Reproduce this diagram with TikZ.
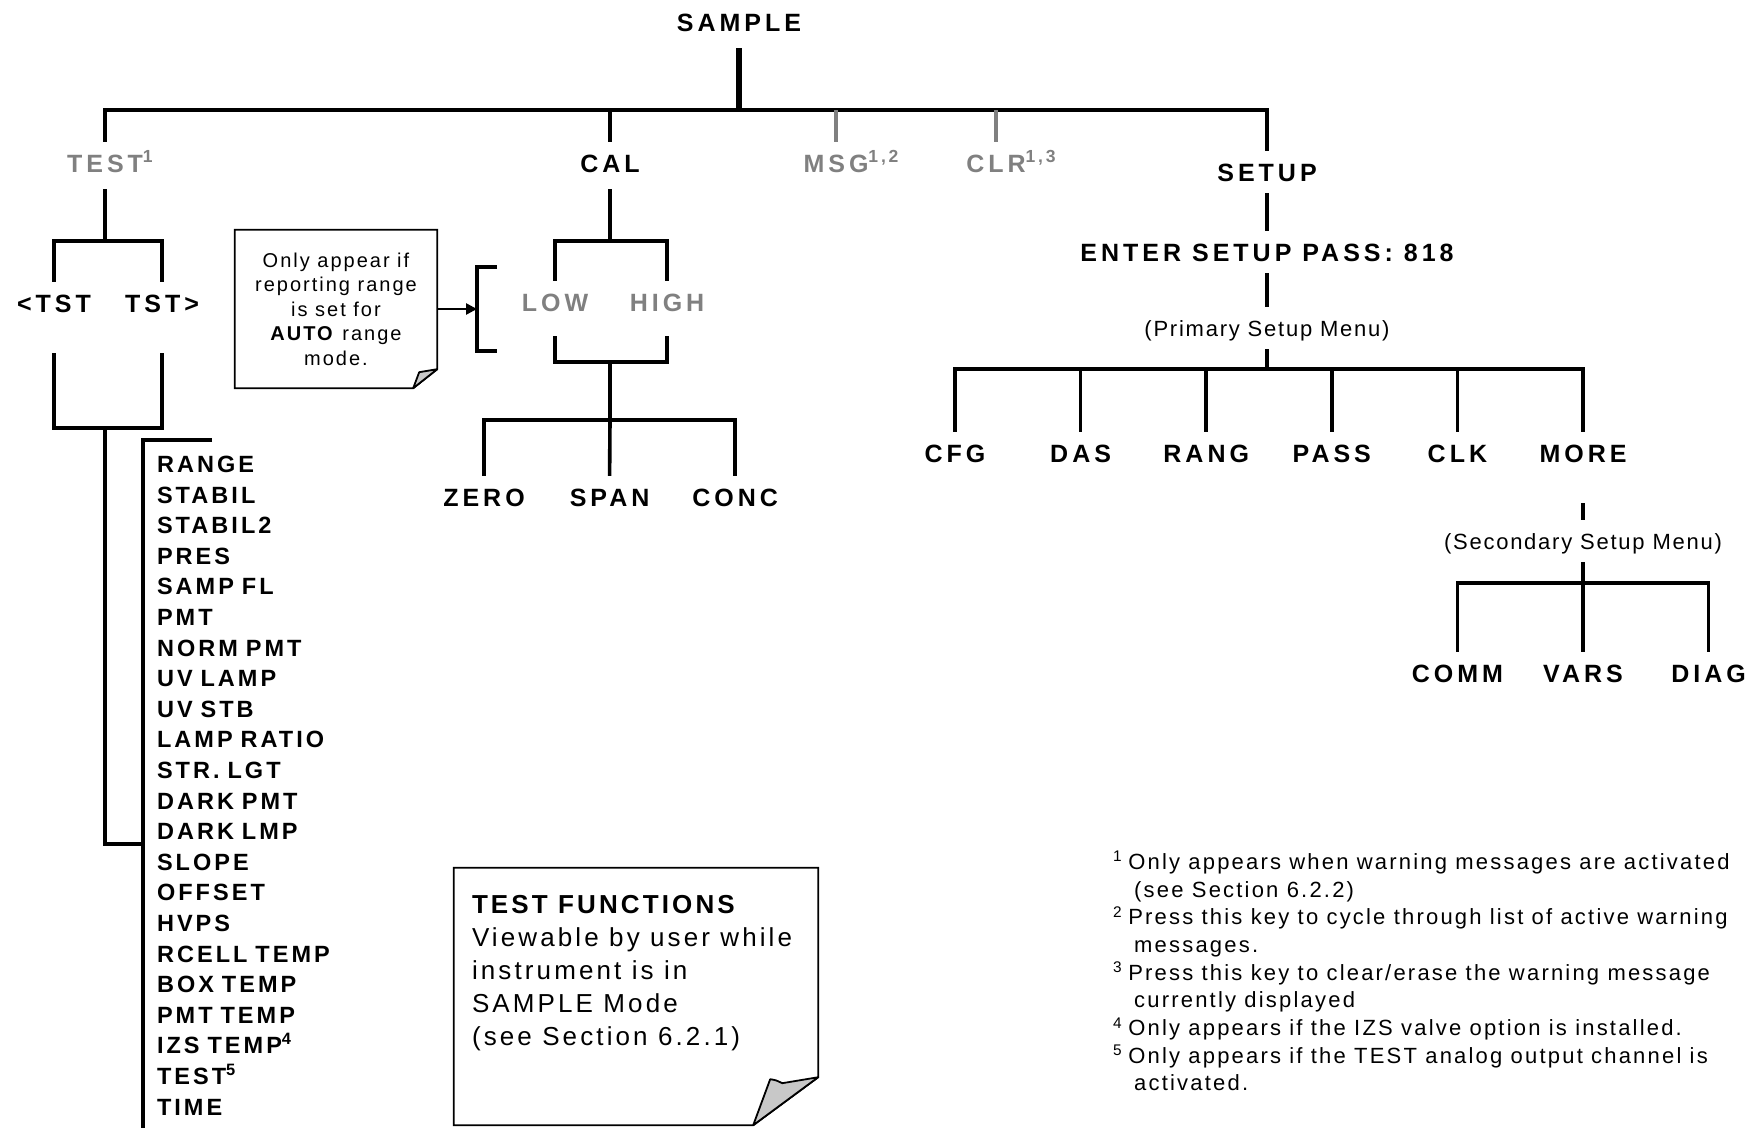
\documentclass[tikz,border=0pt]{standalone}
\usepackage{fontspec}
\setmainfont{Liberation Sans}[LetterSpace=8]
\usepackage{tikz}
\usetikzlibrary{arrows.meta}

\definecolor{keygrey}{RGB}{128,128,128}
\definecolor{foldgrey}{RGB}{200,200,200}

\begin{document}
\begin{tikzpicture}[
		x = 1pt, y = -1pt, % pixel grid, y pointing down
		> = {Triangle[length=11pt, width=11pt]}, % arrow head style
		node distance = 125.6pt, % distance between keys in a row
		line join = miter
		]
		
		\tikzstyle{menukey}=[
		font = \fontsize{25}{30}\selectfont\bfseries\addfontfeature{LetterSpace=16},
		text height = 18pt,
		text depth = 0pt,
		inner xsep = 0pt,
		inner ysep = 12pt
		]
		\tikzstyle{greykey}=[menukey, text = keygrey]
		\tikzstyle{menutext}=[menukey, font = \fontsize{22}{26}\selectfont, text height = 16pt, inner ysep = 13pt]
		\tikzstyle{listitem}=[menukey, font = \fontsize{23.5}{28}\selectfont\bfseries\addfontfeature{LetterSpace=13}, text height = 17pt, text width = 200pt, align = left, inner sep = 0pt]
		\tikzstyle{branch}=[line width = 3.6pt]
		\tikzstyle{mainline}=[line width = 5.5pt]
		\tikzstyle{greybranch}=[line width = 3.2pt, draw = keygrey]
		\tikzstyle{pointer}=[line width = 2.6pt, ->]
		\tikzstyle{notepaper}=[line width = 1.8pt]
		\tikzstyle{notefold}=[line width = 1.8pt, fill = foldgrey, line join = round]
		
		\useasboundingbox (0,0) rectangle (1753,1127);
		
		% top level keys
		\node[menukey, inner ysep = 17pt] (sample) at (739,22) {SAMPLE};
		\node[greykey] (test) at (105,163) {TEST\rlap{\textsuperscript{1}}};
		\node[menukey] (cal) at (610,163) {CAL};
		\node[greykey] (msg) at (836,163) {MSG\rlap{\textsuperscript{1,2}}};
		\node[greykey] (clr) at (996,163) {CLR\rlap{\textsuperscript{1,3}}};
		\node[menukey] (setup) at (1267,172) {SETUP};
		
		% test functions
		\node[menukey] (ltst) at (54,303) {<TST};
		\node[menukey] (rtst) at (162,303) {TST>};
		
		\begin{scope}[node distance = 30.6pt]
		\node[listitem] (range) at (257,464) {RANGE};
		\node[listitem] (stabil) [below of=range] {STABIL};
		\node[listitem] (stabiltwo) [below of=stabil] {STABIL2};
		\node[listitem] (pres) [below of=stabiltwo] {PRES};
		\node[listitem] (sampfl) [below of=pres] {SAMP FL};
		\node[listitem] (pmt) [below of=sampfl] {PMT};
		\node[listitem] (normpmt) [below of=pmt] {NORM PMT};
		\node[listitem] (uvlamp) [below of=normpmt] {UV LAMP};
		\node[listitem] (uvstb) [below of=uvlamp] {UV STB};
		\node[listitem] (lampratio) [below of=uvstb] {LAMP RATIO};
		\node[listitem] (strlgt) [below of=lampratio] {STR. LGT};
		\node[listitem] (darkpmt) [below of=strlgt] {DARK PMT};
		\node[listitem] (darklmp) [below of=darkpmt] {DARK LMP};
		\node[listitem] (slope) [below of=darklmp] {SLOPE};
		\node[listitem] (offset) [below of=slope] {OFFSET};
		\node[listitem] (hvps) [below of=offset] {HVPS};
		\node[listitem] (rcell) [below of=hvps] {RCELL TEMP};
		\node[listitem] (boxtemp) [below of=rcell] {BOX TEMP};
		\node[listitem] (pmttemp) [below of=boxtemp] {PMT TEMP};
		\node[listitem] (izstemp) [below of=pmttemp] {IZS TEMP\textsuperscript{4}};
		\node[listitem] (testout) [below of=izstemp] {TEST\textsuperscript{5}};
		\node[listitem] (time) [below of=testout] {TIME};
		\end{scope}
		
		% calibration
		\node[greykey] (low) at (555,302) {LOW};
		\node[greykey] (high) at (667,302) {HIGH};
		\node[menukey] (zero) at (484,497) {ZERO};
		\node[menukey] (span) [right of=zero] {SPAN};
		\node[menukey] (conc) [right of=span] {CONC};
		
		% setup
		\node[menukey] (pass) at (1267,252) {ENTER SETUP PASS: 818};
		\node[menutext] (primary) at (1267,328) {(Primary Setup Menu)};
		\node[menukey] (cfg) at (955,453) {CFG};
		\node[menukey] (das) [right of=cfg] {DAS};
		\node[menukey] (rang) [right of=das] {RANG};
		\node[menukey] (passkey) [right of=rang] {PASS};
		\node[menukey] (clk) [right of=passkey] {CLK};
		\node[menukey] (more) [right of=clk] {MORE};
		\node[menutext] (secondary) [below of=more, node distance = 88pt] {(Secondary Setup Menu)};
		\node[menukey] (vars) at (1583,673) {VARS};
		\node[menukey] (comm) [left of=vars] {COMM};
		\node[menukey] (diag) [right of=vars] {DIAG};
		
		% notes
		\node[align = center, font = \fontsize{20}{24.5}\selectfont\addfontfeature{LetterSpace=10}, minimum width = 202pt, minimum height = 158pt, inner sep = 0pt] (autonote) at (336,309) {Only appear if\\reporting range\\is set for\\\textbf{AUTO} range\\mode.};
		\node[minimum width = 364pt, minimum height = 257pt, inner sep = 0pt] (funbox) at (636,996.5) {};
		\node[anchor = north west, align = left, inner sep = 0pt, font = \fontsize{26}{33}\selectfont\addfontfeature{LetterSpace=12}] (funtext) at ([shift={(18,27)}]funbox.north west) {\textbf{TEST FUNCTIONS}\\Viewable by user while\\instrument is in\\SAMPLE Mode\\(see Section 6.2.1)};
		\node[anchor = north west, align = left, inner sep = 0pt, font = \fontsize{22}{27.7}\selectfont\addfontfeature{LetterSpace=10}] (footnotes) at (1113,851) {\textsuperscript{1}\hspace{6pt}Only appears when warning messages are activated\\
		\hspace*{21pt}(see Section 6.2.2)\\
		\textsuperscript{2}\hspace{6pt}Press this key to cycle through list of active warning\\
		\hspace*{21pt}messages.\\
		\textsuperscript{3}\hspace{6pt}Press this key to clear/erase the warning message\\
		\hspace*{21pt}currently displayed\\
		\textsuperscript{4}\hspace{6pt}Only appears if the IZS valve option is installed.\\
		\textsuperscript{5}\hspace{6pt}Only appears if the TEST analog output channel is\\
		\hspace*{21pt}activated.};
		
		% top level
		\coordinate (bus) at (739,110);
		\draw[mainline] (sample.south) -- (bus);
		\draw[branch] (test.north) |- (bus) -| (setup.north);
		\draw[branch] (cal.north) -- (cal.north |- bus);
		\draw[greybranch] (msg.north) -- (msg.north |- bus);
		\draw[greybranch] (clr.north) -- (clr.north |- bus);
		
		% test branch
		\coordinate (tstfork) at (105,241);
		\coordinate (tstjoin) at (105,428);
		\coordinate (listjoin) at (143,844);
		\coordinate (listtop) at (212,440);
		\coordinate (listend) at (143,1130);
		\draw[branch] ([shift={(0,5)}]test.south) -- (tstfork);
		\draw[branch] (ltst.north) |- (tstfork) -| (rtst.north);
		\draw[branch] ([shift={(0,29)}]ltst.south) |- (tstjoin) -| ([shift={(0,29)}]rtst.south);
		\draw[branch] (tstjoin) |- (listjoin);
		\draw[branch] (listtop) -| (listend);
		
		% cal branch
		\coordinate (calfork) at (610,241);
		\coordinate (caljoin) at (610,362);
		\coordinate (calspread) at (610,420);
		\coordinate (rangebrk) at (477,309);
		\draw[branch] ([shift={(0,5)}]cal.south) -- (calfork);
		\draw[branch] (low.north) |- (calfork) -| (high.north);
		\draw[branch] ([shift={(0,13)}]low.south) |- (caljoin) -| ([shift={(0,13)}]high.south);
		\draw[branch] (caljoin) -- (calspread);
		\draw[branch] (zero.north) |- (calspread) -| (conc.north);
		\draw[branch] (span.north) -- (calspread);
		\draw[branch] ([shift={(20,-42)}]rangebrk) -- ++(-20,0) -- ++(0,84) -- ++(20,0);
		\draw[pointer] (autonote.east) -- (rangebrk);
		
		% setup branch
		\coordinate (setupfork) at (1267,369);
		\coordinate (morefork) at (1583,583);
		\draw[branch] (setup.south) -- (pass.north);
		\draw[branch] (pass.south) -- (primary.north);
		\draw[branch] (primary.south) -- (setupfork);
		\draw[branch] (cfg.north) |- (setupfork) -| (more.north);
		\draw[branch] (das.north) -- (das.north |- setupfork);
		\draw[branch] (rang.north) -- (rang.north |- setupfork);
		\draw[branch] (passkey.north) -- (passkey.north |- setupfork);
		\draw[branch] (clk.north) -- (clk.north |- setupfork);
		\draw[branch] ([shift={(0,29)}]more.south) -- (secondary.north);
		\draw[branch] (secondary.south) -- (vars.north);
		\draw[branch] (comm.north) |- (morefork) -| (diag.north);
		
		% note sheets with folded corner
		\draw[notepaper] (autonote.south west) -- (autonote.north west) -- (autonote.north east) -- ([shift={(0,-19)}]autonote.south east) -- ([shift={(-24,0)}]autonote.south east) -- cycle;
		\draw[notefold] ([shift={(-24,0)}]autonote.south east) -- ([shift={(-18,-16)}]autonote.south east) -- ([shift={(0,-19)}]autonote.south east) -- cycle;
		\draw[notepaper] (funbox.south west) -- (funbox.north west) -- (funbox.north east) -- ([shift={(0,-48)}]funbox.south east) -- ([shift={(-65,0)}]funbox.south east) -- cycle;
		\draw[notefold] ([shift={(-65,0)}]funbox.south east) -- ([shift={(-48,-46)}]funbox.south east) .. controls ([shift={(-42,-45)}]funbox.south east) .. ([shift={(-36,-42)}]funbox.south east) -- ([shift={(0,-48)}]funbox.south east) -- cycle;
		
\end{tikzpicture}
\end{document}
